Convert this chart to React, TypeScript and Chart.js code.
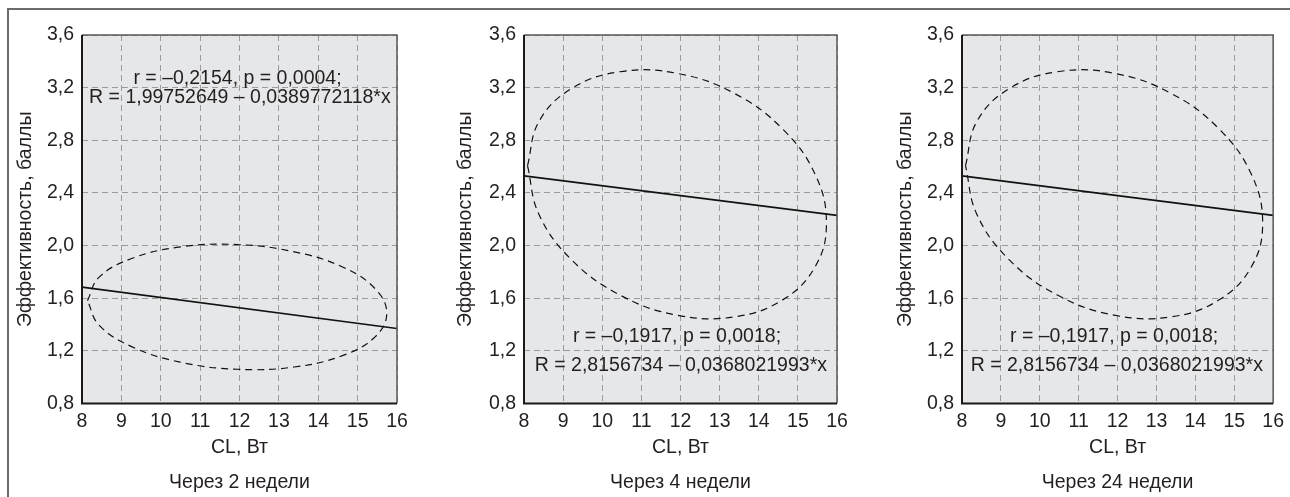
import React, { useEffect, useRef } from 'react';
import { Chart, registerables } from 'chart.js';

Chart.register(...registerables);

// ---- Data ----
const xTickValues = [8, 9, 10, 11, 12, 13, 14, 15, 16];
const yTickValues = [0.8, 1.2, 1.6, 2.0, 2.4, 2.8, 3.2, 3.6];

const xAxisTitle = 'CL, Вт';
const yAxisTitle = 'Эффективность, баллы';
const panelTitles = ['Через 2 недели', 'Через 4 недели', 'Через 24 недели'];

// Через 2 недели (dashed ellipse outline, closed loop)
const w2EllipseX = [8.14, 8.43, 9.26, 10.49, 11.94, 13.39, 14.63, 15.45, 15.74, 15.45, 14.63, 13.39, 11.94, 10.49, 9.26, 8.43, 8.14];
const w2EllipseY = [1.582, 1.759, 1.902, 1.99, 2.008, 1.953, 1.836, 1.671, 1.487, 1.309, 1.166, 1.078, 1.061, 1.115, 1.233, 1.397, 1.582];
const w2LineX = [8, 16];
const w2LineY = [1.685, 1.37];
const w2Notes = ['r = –0,2154, p = 0,0004;', 'R = 1,99752649 – 0,0389772118*x'];

// Через 4 недели
const w4EllipseX = [8.09, 8.38, 9.21, 10.45, 11.91, 13.38, 14.61, 15.44, 15.73, 15.44, 14.61, 13.38, 11.91, 10.45, 9.21, 8.38, 8.09];
const w4EllipseY = [2.607, 2.942, 3.192, 3.321, 3.309, 3.156, 2.886, 2.542, 2.17, 1.839, 1.588, 1.459, 1.472, 1.625, 1.894, 2.239, 2.607];
const w4LineX = [8, 16];
const w4LineY = [2.53, 2.23];
const w4Notes = ['r = –0,1917, p = 0,0018;', 'R = 2,8156734 – 0,0368021993*x'];

// Через 24 недели
const w24EllipseX = [8.09, 8.38, 9.21, 10.45, 11.91, 13.38, 14.61, 15.44, 15.73, 15.44, 14.61, 13.38, 11.91, 10.45, 9.21, 8.38, 8.09];
const w24EllipseY = [2.607, 2.942, 3.192, 3.321, 3.309, 3.156, 2.886, 2.542, 2.17, 1.839, 1.588, 1.459, 1.472, 1.625, 1.894, 2.239, 2.607];
const w24LineX = [8, 16];
const w24LineY = [2.53, 2.23];
const w24Notes = ['r = –0,1917, p = 0,0018;', 'R = 2,8156734 – 0,0368021993*x'];

// ---- Layout / style ----
const FONT = "'Liberation Sans', Arial, sans-serif";
const FS = 19.5;
const TEXT = '#231f20';

type PanelCfg = {
  title: string;
  ex: number[];
  ey: number[];
  lx: number[];
  ly: number[];
  notes: string[];
  noteAnchors: { x: number; y: number }[];
  left: number;
  padL: number;
  yW: number;
  padR: number;
};

const panels: PanelCfg[] = [
  {
    title: panelTitles[0], ex: w2EllipseX, ey: w2EllipseY, lx: w2LineX, ly: w2LineY, notes: w2Notes,
    noteAnchors: [{ x: 11.95, y: 3.27 }, { x: 12.01, y: 3.125 }],
    left: 0, padL: 14, yW: 68, padR: 33,
  },
  {
    title: panelTitles[1], ex: w4EllipseX, ey: w4EllipseY, lx: w4LineX, ly: w4LineY, notes: w4Notes,
    noteAnchors: [{ x: 11.91, y: 1.31 }, { x: 12.01, y: 1.085 }],
    left: 430, padL: 24, yW: 70, padR: 23,
  },
  {
    title: panelTitles[2], ex: w24EllipseX, ey: w24EllipseY, lx: w24LineX, ly: w24LineY, notes: w24Notes,
    noteAnchors: [{ x: 11.91, y: 1.31 }, { x: 11.98, y: 1.085 }],
    left: 860, padL: 34, yW: 68, padR: 13,
  },
];

const framePlugin = {
  id: 'frame',
  beforeDraw(chart: any) {
    const { ctx, chartArea } = chart;
    ctx.save();
    ctx.fillStyle = '#e6e7e8';
    ctx.fillRect(chartArea.left, chartArea.top, chartArea.right - chartArea.left, chartArea.bottom - chartArea.top);
    ctx.restore();
  },
  afterDraw(chart: any, _args: any, opts: any) {
    const { ctx, chartArea } = chart;
    const { left, right, top, bottom } = chartArea;
    ctx.save();
    ctx.setLineDash([]);
    ctx.strokeStyle = '#5a5a5a';
    ctx.lineWidth = 1.5;
    ctx.beginPath();
    ctx.moveTo(left, top);
    ctx.lineTo(right, top);
    ctx.lineTo(right, bottom);
    ctx.stroke();
    ctx.strokeStyle = '#1a1a1a';
    ctx.lineWidth = 2;
    ctx.beginPath();
    ctx.moveTo(left, top);
    ctx.lineTo(left, bottom);
    ctx.lineTo(right, bottom);
    ctx.stroke();
    const xs = chart.scales.x;
    const ys = chart.scales.y;
    ctx.fillStyle = TEXT;
    ctx.font = `${FS}px ${FONT}`;
    ctx.textAlign = 'center';
    ctx.textBaseline = 'middle';
    (opts.notes || []).forEach((t: string, i: number) => {
      const a = opts.anchors[i];
      ctx.fillText(t, xs.getPixelForValue(a.x), ys.getPixelForValue(a.y));
    });
    ctx.restore();
  },
};

function Panel({ cfg }: { cfg: PanelCfg }) {
  const ref = useRef<HTMLCanvasElement | null>(null);
  useEffect(() => {
    if (!ref.current) return;
    const ellipse = cfg.ex.map((x, i) => ({ x, y: cfg.ey[i] }));
    const line = cfg.lx.map((x, i) => ({ x, y: cfg.ly[i] }));
    const chart = new Chart(ref.current, {
      type: 'scatter',
      data: {
        datasets: [
          {
            data: line,
            showLine: true,
            borderColor: '#111',
            borderWidth: 1.6,
            pointRadius: 0,
            tension: 0,
          },
          {
            data: ellipse,
            showLine: true,
            borderColor: '#111',
            borderWidth: 1.2,
            borderDash: [7, 5],
            pointRadius: 0,
            tension: 0.4,
          },
        ],
      },
      options: {
        animation: false,
        responsive: false,
        devicePixelRatio: 1,
        layout: { padding: { left: cfg.padL, right: cfg.padR, top: 35, bottom: 3 } },
        plugins: {
          legend: { display: false },
          tooltip: { enabled: false },
          title: {
            display: true,
            text: cfg.title,
            position: 'bottom',
            fullSize: false,
            color: TEXT,
            font: { family: FONT, size: FS, weight: 'normal' },
            padding: { top: 5, bottom: 0 },
          },
          frame: { notes: cfg.notes, anchors: cfg.noteAnchors },
        } as any,
        scales: {
          x: {
            type: 'linear',
            min: 8,
            max: 16,
            afterBuildTicks: (s: any) => { s.ticks = xTickValues.map((v) => ({ value: v })); },
            afterFit: (s: any) => { s.height = 62; },
            ticks: {
              color: TEXT,
              font: { family: FONT, size: FS },
              padding: 6,
              callback: (v: any) => String(v),
              maxRotation: 0,
            },
            grid: { color: '#9b9b9b', lineWidth: 1, drawTicks: false },
            border: { display: false, dash: [6, 4] },
            title: {
              display: true,
              text: xAxisTitle,
              color: TEXT,
              font: { family: FONT, size: FS },
              padding: { top: 0, bottom: 6 },
            },
          },
          y: {
            type: 'linear',
            min: 0.8,
            max: 3.6,
            afterBuildTicks: (s: any) => { s.ticks = yTickValues.map((v) => ({ value: v })); },
            afterFit: (s: any) => { s.width = cfg.yW; },
            ticks: {
              color: TEXT,
              font: { family: FONT, size: FS },
              padding: 8,
              callback: (v: any) => Number(v).toFixed(1).replace('.', ','),
            },
            grid: { color: '#9b9b9b', lineWidth: 1, drawTicks: false },
            border: { display: false, dash: [6, 4] },
            title: {
              display: true,
              text: yAxisTitle,
              color: TEXT,
              font: { family: FONT, size: FS },
              padding: { top: 0, bottom: 0 },
            },
          },
        },
      },
      plugins: [framePlugin],
    } as any);
    return () => chart.destroy();
  }, [cfg]);
  return (
    <canvas
      ref={ref}
      width={430}
      height={497}
      style={{ position: 'absolute', left: cfg.left, top: 0, width: 430, height: 497 }}
    />
  );
}

export default function App() {
  return (
    <div style={{ position: 'fixed', left: 0, top: 0, width: 1290, height: 497, background: '#fff', overflow: 'hidden' }}>
      <div
        style={{
          position: 'absolute',
          left: 7,
          top: 8,
          width: 1300,
          height: 520,
          borderTop: '2px solid #6b6b6b',
          borderLeft: '2px solid #6b6b6b',
        }}
      />
      {panels.map((p, i) => (
        <Panel key={i} cfg={p} />
      ))}
    </div>
  );
}
